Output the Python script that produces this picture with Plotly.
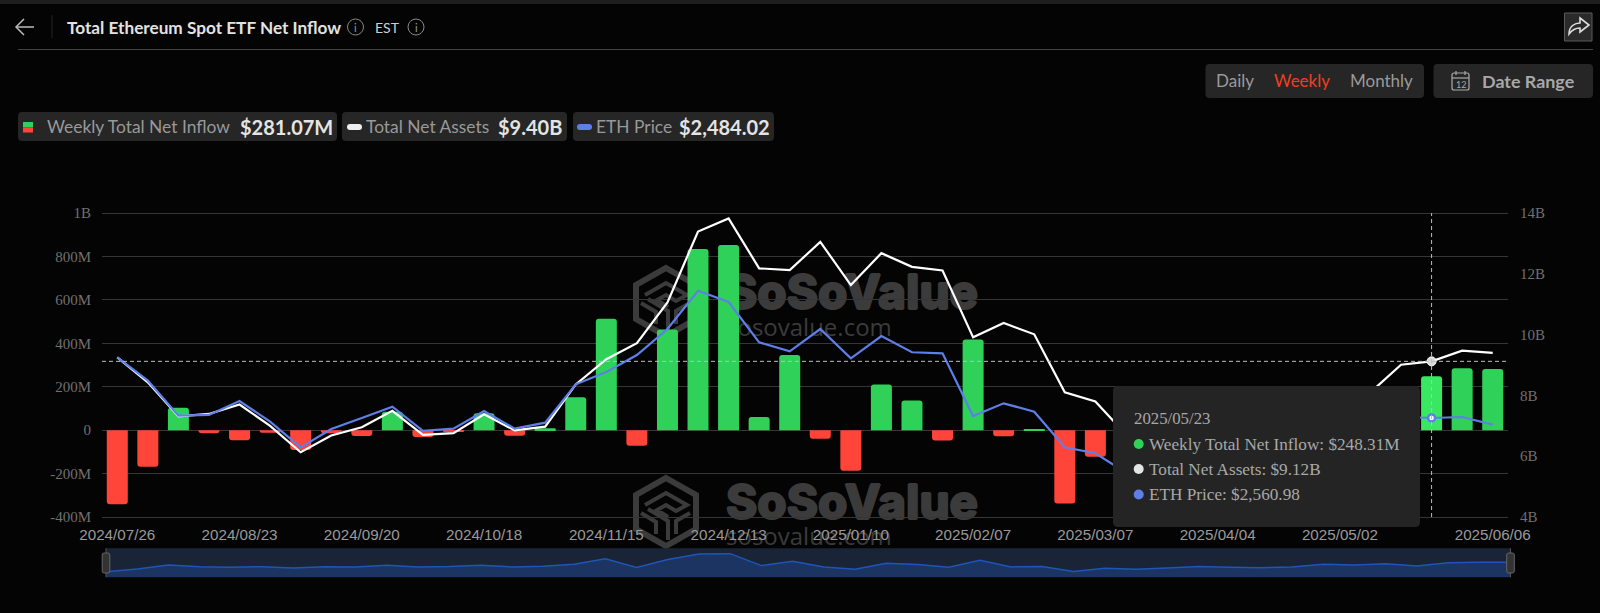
import plotly.graph_objects as go

# ---------- data ----------
weeks = ["2024/07/26","2024/08/02","2024/08/09","2024/08/16","2024/08/23","2024/08/30","2024/09/06","2024/09/13",
         "2024/09/20","2024/09/27","2024/10/04","2024/10/11","2024/10/18","2024/10/25","2024/11/01","2024/11/08",
         "2024/11/15","2024/11/22","2024/11/29","2024/12/06","2024/12/13","2024/12/20","2024/12/27","2025/01/03",
         "2025/01/10","2025/01/17","2025/01/24","2025/01/31","2025/02/07","2025/02/14","2025/02/21","2025/02/28",
         "2025/03/07","2025/03/14","2025/03/21","2025/03/28","2025/04/04","2025/04/11","2025/04/18","2025/04/25",
         "2025/05/02","2025/05/09","2025/05/16","2025/05/23","2025/05/30","2025/06/06"]
inflow_m = [-341,-169,103,-14,-46,-12,-92,-14,-27,85,-32,-7,78,-26,9,152,513,-72,464,834,853,60,346,-40,-187,210,
            137,-48,418,-28,2,-338,-123,-190,-103,-3,-49,-82,-32,157,106,177,41,248.31,285,281.07]
net_assets_b = [9.25,8.43,7.31,7.39,7.70,7.00,6.13,6.68,6.95,7.49,6.70,6.76,7.38,6.85,6.97,8.36,9.19,9.72,11.06,
                13.39,13.82,12.18,12.12,13.05,11.63,12.68,12.23,12.11,9.91,10.38,10.01,8.10,7.80,6.71,6.50,6.60,
                6.20,5.60,5.90,6.60,7.00,8.10,9.01,9.12,9.47,9.40]
eth_price = [3260,2992,2588,2596,2757,2519,2222,2434,2561,2692,2411,2438,2642,2438,2507,2950,3092,3288,3589,4031,
             3901,3435,3331,3589,3250,3508,3320,3308,2584,2730,2634,2222,2153,1930,1980,1890,1810,1580,1590,1790,
             1840,2350,2575,2560.98,2572,2484.02]
x_ticks = ["2024/07/26","2024/08/23","2024/09/20","2024/10/18","2024/11/15","2024/12/13","2025/01/10","2025/02/07",
           "2025/03/07","2025/04/04","2025/05/02","2025/06/06"]
left_ticks = [-400,-200,0,200,400,600,800,1000]
left_labels = ["-400M","-200M","0","200M","400M","600M","800M","1B"]
right_ticks = [4,6,8,10,12,14]
right_labels = ["4B","6B","8B","10B","12B","14B"]
HOVER = "2025/05/23"
hi = weeks.index(HOVER)

# ---------- style ----------
W, H = 1600, 613
BG = "#040404"
GREEN, GREEN_HI, RED = "#30d158", "#38e862", "#ff453a"
WHITE, BLUE = "#ffffff", "#5f7fe8"
WM = "#3b3b3b"
CHIP = "#262626"
PTOP, PBOT = 213, 517
px = lambda x: x / W
py = lambda y: 1 - y / H


def rrect(x0, y0, x1, y1, r, fill, line=None, layer="above", lw=1):
    p = (f"M{px(x0+r)},{py(y0)} L{px(x1-r)},{py(y0)} Q{px(x1)},{py(y0)} {px(x1)},{py(y0+r)} "
         f"L{px(x1)},{py(y1-r)} Q{px(x1)},{py(y1)} {px(x1-r)},{py(y1)} L{px(x0+r)},{py(y1)} "
         f"Q{px(x0)},{py(y1)} {px(x0)},{py(y1-r)} L{px(x0)},{py(y0+r)} Q{px(x0)},{py(y0)} {px(x0+r)},{py(y0)} Z")
    return dict(type="path", xref="paper", yref="paper", path=p, fillcolor=fill, layer=layer,
                line=dict(color=line or "rgba(0,0,0,0)", width=lw if line else 0))


def poly(pts, color, width=1.5, closed=False, fill=None, layer="above"):
    p = "M" + " L".join(f"{px(a)},{py(b)}" for a, b in pts) + (" Z" if closed else "")
    return dict(type="path", xref="paper", yref="paper", path=p, layer=layer,
                fillcolor=fill or "rgba(0,0,0,0)", line=dict(color=color, width=width))


def circle(cx, cy, r, fill, line=None, lw=1):
    return dict(type="circle", xref="paper", yref="paper", x0=px(cx-r), x1=px(cx+r), y0=py(cy+r), y1=py(cy-r),
                fillcolor=fill, line=dict(color=line or "rgba(0,0,0,0)", width=lw if line else 0))


def text(x, y, s, size=16, color="#aaa", family="Lato", anchor="left"):
    return dict(xref="paper", yref="paper", x=px(x), y=py(y), text=s, showarrow=False, xanchor=anchor,
                yanchor="middle", align=anchor, font=dict(size=size, color=color, family=family),
                borderpad=0, borderwidth=0)


def label_rect(x0, y0, x1, y1, s, font, pos="middle left"):
    return dict(type="rect", xref="paper", yref="paper", x0=px(x0), x1=px(x1), y0=py(y1), y1=py(y0),
                layer="below", fillcolor="rgba(0,0,0,0)", line=dict(width=0),
                label=dict(text=s, textposition=pos, padding=0, font=dict(color=WM, **font)))


shapes, notes = [], []

# watermark (two copies, below the marks)
BOLD = ("1px 0 0 #3b3b3b, -1px 0 0 #3b3b3b, 0 1px 0 #3b3b3b, 0 -1px 0 #3b3b3b")
for dy in (-210, 0):
    hexa = [(666, 478), (696, 495), (696, 529), (666, 546), (636, 529), (636, 495)]
    shapes.append(poly([(a, b + dy) for a, b in hexa], WM, 6, True, layer="below"))
    for seg in ([(645, 505), (666, 493), (687, 505), (676, 511), (666, 505), (657, 510), (668, 517)],
                [(641, 513), (656, 522), (656, 534)],
                [(648, 509), (668, 521), (668, 540)],
                [(690, 513), (676, 521), (676, 534)]):
        shapes.append(poly([(a, b + dy) for a, b in seg], WM, 4, layer="below"))
    shapes.append(label_rect(723, 470 + dy, 990, 530 + dy, "SoSoValue",
                             dict(size=47.5, family="Inter", weight=800, shadow=BOLD)))
shapes.append(label_rect(723, 316, 900, 340, "sosovalue.com", dict(size=24, family="Open Sans")))
shapes.append(label_rect(723, 525, 900, 550, "sosovalue.com", dict(size=24, family="Open Sans")))

# header
shapes.append(dict(type="rect", xref="paper", yref="paper", x0=0, x1=1, y0=py(4), y1=py(0),
                   fillcolor="#1e1e1e", line=dict(width=0)))
shapes.append(poly([(18, 49.5), (1593, 49.5)], "#444", 1))
shapes.append(poly([(17, 27), (34, 27)], "#bbb", 1.5))
shapes.append(poly([(24, 19), (16, 27), (24, 35)], "#bbb", 1.5))
shapes.append(poly([(52, 15), (52, 38)], "#222", 1))
notes.append(text(67, 27, "<b>Total Ethereum Spot ETF Net Inflow</b>", 17.2, "#e2e2e2"))
for ix in (355.5, 416):
    shapes.append(circle(ix, 27, 8, "rgba(0,0,0,0)", "#888", 1))
    notes.append(text(ix, 27, "i", 11, "#999", "Lato", "center"))
notes.append(text(375, 27, "EST", 14, "#cfcfcf"))

# share button
shapes.append(dict(type="rect", xref="paper", yref="paper", x0=px(1564.5), x1=px(1592), y0=py(41), y1=py(13),
                   fillcolor="#2a2a2a", line=dict(color="#5a5a5a", width=1)))
shapes.append(dict(type="path", xref="paper", yref="paper", line=dict(color="#dddddd", width=1.6),
                   path=(f"M{px(1569)},{py(34)} C{px(1569)},{py(26)} {px(1575)},{py(23)} {px(1580)},{py(23)} "
                         f"L{px(1580)},{py(18)} L{px(1589)},{py(25)} L{px(1580)},{py(32)} L{px(1580)},{py(28)} "
                         f"C{px(1576)},{py(28)} {px(1572)},{py(30)} {px(1569)},{py(34)} Z")))

# period selector
shapes.append(rrect(1205.5, 64, 1424, 98, 4, CHIP))
notes.append(text(1216, 81, "Daily", 17, "#9a9a9a"))
notes.append(text(1274, 81, "Weekly", 17, "#ef3f1e"))
notes.append(text(1350, 81, "Monthly", 17, "#9a9a9a"))
shapes.append(rrect(1433.5, 64, 1593, 98, 4, CHIP))
shapes.append(rrect(1452, 73, 1469, 90, 2, "rgba(0,0,0,0)", "#aaa", lw=1.2))
shapes.append(poly([(1452, 78), (1469, 78)], "#aaa", 1.2))
shapes.append(poly([(1456, 71), (1456, 75)], "#aaa", 1.2))
shapes.append(poly([(1465, 71), (1465, 75)], "#aaa", 1.2))
notes.append(text(1460.5, 84.5, "12", 9, "#aaa", "Lato", "center"))
notes.append(text(1481.5, 81, "<b>Date Range</b>", 17.9, "#a8a8a8"))

# legend chips
shapes.append(rrect(18, 112, 337, 141, 4, CHIP))
shapes.append(rrect(342, 112, 567, 141, 4, CHIP))
shapes.append(rrect(573, 112, 774, 141, 4, CHIP))
shapes.append(dict(type="rect", xref="paper", yref="paper", x0=px(23), x1=px(33), y0=py(127.5), y1=py(122),
                   fillcolor=GREEN, line=dict(width=0)))
shapes.append(dict(type="rect", xref="paper", yref="paper", x0=px(23), x1=px(33), y0=py(132.5), y1=py(127.5),
                   fillcolor=RED, line=dict(width=0)))
shapes.append(rrect(347, 124, 362, 130, 3, "#eeeeee"))
shapes.append(rrect(577, 124, 592, 130, 3, BLUE))
notes += [text(47, 127, "Weekly Total Net Inflow", 17.4, "#999999"),
          text(240, 127, "<b>$281.07M</b>", 20, "#e4e4e4"),
          text(366, 127, "Total Net Assets", 17.4, "#999999"),
          text(498, 127, "<b>$9.40B</b>", 20, "#e4e4e4"),
          text(596, 127, "ETH Price", 17.4, "#999999"),
          text(679, 127, "<b>$2,484.02</b>", 20, "#e4e4e4")]

# crosshair
shapes.append(dict(type="line", xref="paper", yref="y2", x0=px(102), x1=px(1508), y0=net_assets_b[hi], y1=net_assets_b[hi],
                   line=dict(color="#bdbdbd", width=1, dash="4px,3px")))
shapes.append(dict(type="line", xref="x", yref="paper", x0=HOVER, x1=HOVER, y0=py(PBOT), y1=py(PTOP),
                   line=dict(color="#bdbdbd", width=1, dash="4px,3px")))

# tooltip
shapes.append(rrect(1113, 386, 1420, 527, 5, "#242424"))
TF = "Liberation Serif"
notes.append(text(1134, 418.5, HOVER, 16.8, "#a8a8a8", TF))
rows = [("Weekly Total Net Inflow: $248.31M", GREEN, 444),
        ("Total Net Assets: $9.12B", "#e4e4e4", 469),
        ("ETH Price: $2,560.98", BLUE, 494.5)]
for label, colour, yy in rows:
    shapes.append(circle(1138.7, yy, 5, colour))
    notes.append(text(1148.5, yy, label, 17.2, "#a8a8a8", TF))

# minimap frame and handles
MX0, MX1, MY0, MY1 = 106, 1510.5, 548.3, 577.3
shapes.append(dict(type="rect", xref="paper", yref="paper", x0=px(MX0), x1=px(MX1), y0=py(MY1), y1=py(MY0),
                   fillcolor="#1a2437", line=dict(width=0), layer="below"))
for hx in (MX0, MX1):
    shapes.append(poly([(hx, MY0), (hx, MY1)], "#555", 1))
    shapes.append(rrect(hx - 3.8, 553, hx + 3.8, 573, 2, "#333", "#666"))

# ---------- traces ----------
bar_colors = [(GREEN_HI if w == HOVER else GREEN) if v >= 0 else RED for w, v in zip(weeks, inflow_m)]
fig = go.Figure()
fig.add_trace(go.Bar(x=weeks, y=inflow_m, marker=dict(color=bar_colors, line=dict(width=0)),
                     name="Weekly Total Net Inflow", yaxis="y", xaxis="x"))
fig.add_trace(go.Scatter(x=weeks, y=net_assets_b, mode="lines", line=dict(color=WHITE, width=2.2),
                         name="Total Net Assets", yaxis="y2", xaxis="x"))
fig.add_trace(go.Scatter(x=weeks, y=eth_price, mode="lines", line=dict(color=BLUE, width=2.2),
                         name="ETH Price", yaxis="y3", xaxis="x"))
fig.add_trace(go.Scatter(x=[HOVER], y=[net_assets_b[hi]], mode="markers", yaxis="y2", xaxis="x",
                         marker=dict(size=9, color="#d8d8d8", line=dict(color="#ffffff", width=1))))
fig.add_trace(go.Scatter(x=[HOVER], y=[eth_price[hi]], mode="markers", yaxis="y3", xaxis="x",
                         marker=dict(size=7, color="#ffffff", line=dict(color=BLUE, width=2.5))))

# minimap area: bars' series on its own axes
mini_floor = [-716] * len(weeks)
fig.add_trace(go.Scatter(x=weeks, y=mini_floor, mode="lines", line=dict(width=0), xaxis="x2", yaxis="y4"))
fig.add_trace(go.Scatter(x=weeks, y=inflow_m, mode="lines", fill="tonexty", fillcolor="#1b3461",
                         line=dict(color="#1f55b8", width=1.5), xaxis="x2", yaxis="y4"))

GRID = "#363636"
PAD = 2  # px of axis slack so the end gridlines are drawn
XDOM = [px(102), px(1508)]
YDOM = [py(PBOT + PAD), py(PTOP - PAD)]
lpad, rpad, ppad = PAD * 1400 / 304, PAD * 10 / 304, PAD * (4929 - 1417) / 304
tickf = dict(size=15, color="#707070", family="Liberation Serif")
fig.update_layout(
    width=W, height=H, margin=dict(l=0, r=0, t=0, b=0, pad=0, autoexpand=False), autosize=False,
    paper_bgcolor=BG, plot_bgcolor="rgba(0,0,0,0)", showlegend=False, hovermode=False, dragmode=False,
    bargap=0.313, barcornerradius=3, shapes=shapes, annotations=notes,
    xaxis=dict(domain=XDOM, type="category", categoryorder="array", categoryarray=weeks, range=[-0.5, 45.5],
               tickmode="array", tickvals=x_ticks, ticktext=x_ticks, ticks="outside", ticklen=2,
               tickcolor="rgba(0,0,0,0)", tickangle=0, showgrid=False, zeroline=False, showline=False,
               automargin=False, tickfont=dict(size=15.2, color="#9a9a9a", family="Liberation Sans"),
               anchor="y", fixedrange=True),
    yaxis=dict(domain=YDOM, range=[-400 - lpad, 1000 + lpad], tickmode="array", tickvals=left_ticks,
               ticktext=left_labels, ticks="outside", ticklen=7, tickcolor="rgba(0,0,0,0)", gridcolor=GRID,
               gridwidth=1, zeroline=False, showline=False, automargin=False, tickfont=tickf, fixedrange=True),
    yaxis2=dict(domain=YDOM, range=[4 - rpad, 14 + rpad], overlaying="y", side="right", anchor="x", tickmode="array",
                tickvals=right_ticks, ticktext=right_labels, ticks="outside", ticklen=8,
                tickcolor="rgba(0,0,0,0)", showgrid=False, zeroline=False, showline=False, automargin=False,
                tickfont=tickf, fixedrange=True),
    yaxis3=dict(domain=YDOM, range=[1417 - ppad, 4929 + ppad], overlaying="y", side="right", anchor="x", visible=False,
                showgrid=False, zeroline=False, fixedrange=True),
    xaxis2=dict(domain=[px(MX0), px(MX1)], type="category", categoryorder="array", categoryarray=weeks,
                range=[0, 45], visible=False, anchor="y4", fixedrange=True, automargin=False),
    yaxis4=dict(domain=[py(MY1), py(MY0)], range=[-716, 1207], visible=False, anchor="x2", fixedrange=True,
                automargin=False),
)

fig.write_html("out.html", config=dict(displayModeBar=False, responsive=False),
               post_script="document.body.style.margin='0';document.body.style.background='#040404';document.body.style.overflow='hidden';")
